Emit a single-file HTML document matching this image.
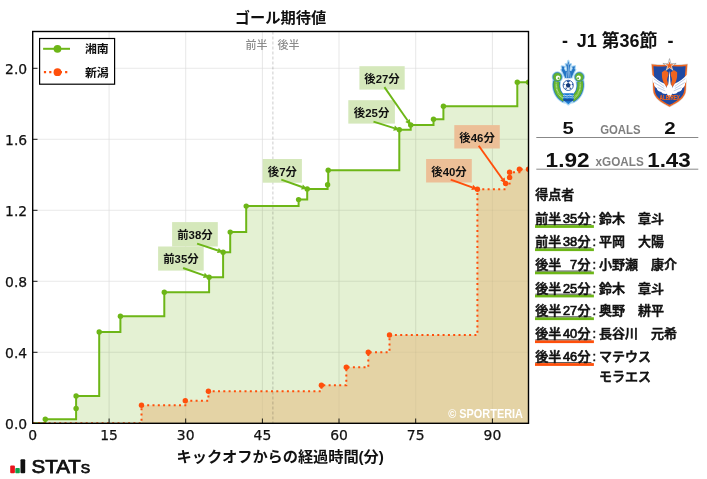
<!DOCTYPE html>
<html lang="ja"><head><meta charset="utf-8"><title>ゴール期待値</title>
<style>
html,body{margin:0;padding:0;background:#fff;}
body{width:707px;height:479px;overflow:hidden;font-family:"Liberation Sans", "Noto Sans CJK JP", sans-serif;}
svg{display:block;}
text{font-family:"Liberation Sans", "Noto Sans CJK JP", sans-serif;}
.tk{font-family:"DejaVu Sans", "Liberation Sans", sans-serif;font-size:13.9px;fill:#111;stroke:#111;stroke-width:0.25px;}
.b{font-weight:700;}
.an{font-size:11.4px;font-weight:700;text-anchor:middle;fill:#111;}
.sc{font-size:13px;font-weight:500;fill:#111;stroke:#111;stroke-width:0.55px;}
.dg{stroke-width:0.7px;}
</style></head><body>
<svg width="707" height="479" viewBox="0 0 707 479">
<rect width="707" height="479" fill="#fff"/>
<defs><clipPath id="cp"><rect x="32.7" y="31.5" width="495.8" height="391.8"/></clipPath></defs>

<g stroke="#f1f1f1" stroke-width="1.1">
<line x1="109.1" y1="31.5" x2="109.1" y2="423.3"/>
<line x1="185.7" y1="31.5" x2="185.7" y2="423.3"/>
<line x1="262.4" y1="31.5" x2="262.4" y2="423.3"/>
<line x1="339.0" y1="31.5" x2="339.0" y2="423.3"/>
<line x1="415.7" y1="31.5" x2="415.7" y2="423.3"/>
<line x1="492.4" y1="31.5" x2="492.4" y2="423.3"/>
<line x1="32.7" y1="352.3" x2="528.5" y2="352.3"/>
<line x1="32.7" y1="281.3" x2="528.5" y2="281.3"/>
<line x1="32.7" y1="210.3" x2="528.5" y2="210.3"/>
<line x1="32.7" y1="139.3" x2="528.5" y2="139.3"/>
<line x1="32.7" y1="68.3" x2="528.5" y2="68.3"/>
</g>
<text x="267.5" y="48.6" font-size="11" text-anchor="end" fill="#8c8c8c" font-weight="500">前半</text>
<text x="277.5" y="48.6" font-size="11" fill="#8c8c8c" font-weight="500">後半</text>
<g clip-path="url(#cp)">
<path d="M32.7 423.3H45.3V419.3H76.1V408.4H76.1V395.9H99.2V332.0H120.4V316.2H164.3V292.2H209.1V277.2H223.1V252.2H230.2V232.1H246.2V206.1H298.6V199.6H307.2V188.9H327.6V184.7H328.2V170.2H399.3V129.8H410.7V125.0H433.5V119.2H443.4V106.2H517.3V82.3H528.5V82.3V423.3Z" fill="#6db617" fill-opacity="0.19"/>
<path d="M32.7 423.3H141.5V405.3H185.3V400.7H208.4V391.3H321.4V385.3H346.3V367.2H368.3V352.2H389.5V335.0H477.4V189.2H505.6V183.5H509.6V177.4H509.6V172.2H519.4V169.3H528.5V169.3V423.3Z" fill="#e4d3a5"/>
</g>
<g stroke="#000" stroke-opacity="0.035" stroke-width="1.1" clip-path="url(#cp)">
<line x1="109.1" y1="31.5" x2="109.1" y2="423.3"/>
<line x1="185.7" y1="31.5" x2="185.7" y2="423.3"/>
<line x1="262.4" y1="31.5" x2="262.4" y2="423.3"/>
<line x1="339.0" y1="31.5" x2="339.0" y2="423.3"/>
<line x1="415.7" y1="31.5" x2="415.7" y2="423.3"/>
<line x1="492.4" y1="31.5" x2="492.4" y2="423.3"/>
<line x1="32.7" y1="352.3" x2="528.5" y2="352.3"/>
<line x1="32.7" y1="281.3" x2="528.5" y2="281.3"/>
<line x1="32.7" y1="210.3" x2="528.5" y2="210.3"/>
<line x1="32.7" y1="139.3" x2="528.5" y2="139.3"/>
<line x1="32.7" y1="68.3" x2="528.5" y2="68.3"/>
</g>
<line x1="272.9" y1="31.5" x2="272.9" y2="423.3" stroke="#000" stroke-opacity="0.2" stroke-width="1" stroke-dasharray="3 2"/>
<g clip-path="url(#cp)">
<path d="M32.7 423.3H45.3V419.3H76.1V408.4H76.1V395.9H99.2V332.0H120.4V316.2H164.3V292.2H209.1V277.2H223.1V252.2H230.2V232.1H246.2V206.1H298.6V199.6H307.2V188.9H327.6V184.7H328.2V170.2H399.3V129.8H410.7V125.0H433.5V119.2H443.4V106.2H517.3V82.3H528.5V82.3" fill="none" stroke="#6db617" stroke-width="2" stroke-linejoin="miter"/>
<path d="M32.7 423.3H141.5V405.3H185.3V400.7H208.4V391.3H321.4V385.3H346.3V367.2H368.3V352.2H389.5V335.0H477.4V189.2H505.6V183.5H509.6V177.4H509.6V172.2H519.4V169.3H528.5V169.3" fill="none" stroke="#ff4f0b" stroke-width="2" stroke-dasharray="2 3.3"/>
<circle cx="45.3" cy="419.3" r="2.7" fill="#6db617"/><circle cx="76.1" cy="408.4" r="2.7" fill="#6db617"/><circle cx="76.1" cy="395.9" r="2.7" fill="#6db617"/><circle cx="99.2" cy="332.0" r="2.7" fill="#6db617"/><circle cx="120.4" cy="316.2" r="2.7" fill="#6db617"/><circle cx="164.3" cy="292.2" r="2.7" fill="#6db617"/><circle cx="209.1" cy="277.2" r="2.7" fill="#6db617"/><circle cx="223.1" cy="252.2" r="2.7" fill="#6db617"/><circle cx="230.2" cy="232.1" r="2.7" fill="#6db617"/><circle cx="246.2" cy="206.1" r="2.7" fill="#6db617"/><circle cx="298.6" cy="199.6" r="2.7" fill="#6db617"/><circle cx="307.2" cy="188.9" r="2.7" fill="#6db617"/><circle cx="327.6" cy="184.7" r="2.7" fill="#6db617"/><circle cx="328.2" cy="170.2" r="2.7" fill="#6db617"/><circle cx="399.3" cy="129.8" r="2.7" fill="#6db617"/><circle cx="410.7" cy="125.0" r="2.7" fill="#6db617"/><circle cx="433.5" cy="119.2" r="2.7" fill="#6db617"/><circle cx="443.4" cy="106.2" r="2.7" fill="#6db617"/><circle cx="517.3" cy="82.3" r="2.7" fill="#6db617"/><circle cx="528.5" cy="82.3" r="2.7" fill="#6db617"/>
<circle cx="141.5" cy="405.3" r="2.7" fill="#ff4f0b"/><circle cx="185.3" cy="400.7" r="2.7" fill="#ff4f0b"/><circle cx="208.4" cy="391.3" r="2.7" fill="#ff4f0b"/><circle cx="321.4" cy="385.3" r="2.7" fill="#ff4f0b"/><circle cx="346.3" cy="367.2" r="2.7" fill="#ff4f0b"/><circle cx="368.3" cy="352.2" r="2.7" fill="#ff4f0b"/><circle cx="389.5" cy="335.0" r="2.7" fill="#ff4f0b"/><circle cx="477.4" cy="189.2" r="2.7" fill="#ff4f0b"/><circle cx="505.6" cy="183.5" r="2.7" fill="#ff4f0b"/><circle cx="509.6" cy="177.4" r="2.7" fill="#ff4f0b"/><circle cx="509.6" cy="172.2" r="2.7" fill="#ff4f0b"/><circle cx="519.4" cy="169.3" r="2.7" fill="#ff4f0b"/><circle cx="528.5" cy="169.3" r="2.7" fill="#ff4f0b"/>
</g>
<text x="448.2" y="418.2" font-size="12" font-weight="700" fill="#fff" textLength="74.8" lengthAdjust="spacingAndGlyphs">© SPORTERIA</text>
<rect x="158.1" y="246.5" width="45.6" height="24.1" fill="#d5e8bb"/>
<line x1="183.1" y1="268.0" x2="203.9" y2="275.4" stroke="#6db617" stroke-width="1.9"/>
<polygon points="209.1,277.2 203.0,277.9 204.8,272.8" fill="#6db617"/>
<text class="an" x="180.9" y="263.4">前35分</text>
<rect x="172.1" y="222.1" width="45.7" height="24.4" fill="#d5e8bb"/>
<line x1="197.1" y1="243.6" x2="217.9" y2="250.5" stroke="#6db617" stroke-width="1.9"/>
<polygon points="223.1,252.2 217.0,253.0 218.7,247.9" fill="#6db617"/>
<text class="an" x="194.9" y="239.2">前38分</text>
<rect x="262.7" y="159.0" width="39.2" height="23.7" fill="#d5e8bb"/>
<line x1="281.3" y1="179.6" x2="302.0" y2="187.0" stroke="#6db617" stroke-width="1.9"/>
<polygon points="307.2,188.9 301.1,189.6 302.9,184.5" fill="#6db617"/>
<text class="an" x="282.3" y="175.8">後7分</text>
<rect x="348.3" y="100.2" width="46.6" height="23.4" fill="#d5e8bb"/>
<line x1="373.5" y1="121.6" x2="394.1" y2="128.1" stroke="#6db617" stroke-width="1.9"/>
<polygon points="399.3,129.8 393.2,130.7 394.9,125.6" fill="#6db617"/>
<text class="an" x="371.6" y="116.8">後25分</text>
<rect x="359.4" y="66.2" width="45.3" height="23.4" fill="#d5e8bb"/>
<line x1="384.4" y1="87.1" x2="407.6" y2="120.5" stroke="#6db617" stroke-width="1.9"/>
<polygon points="410.7,125.0 405.3,122.0 409.8,118.9" fill="#6db617"/>
<text class="an" x="382.0" y="82.8">後27分</text>
<rect x="426.1" y="159.0" width="45.7" height="23.5" fill="#ecbf97"/>
<line x1="450.7" y1="179.7" x2="472.2" y2="187.4" stroke="#ff4f0b" stroke-width="1.9"/>
<polygon points="477.4,189.2 471.3,189.9 473.1,184.8" fill="#ff4f0b"/>
<text class="an" x="449.0" y="175.7">後40分</text>
<rect x="454.3" y="125.1" width="45.5" height="23.4" fill="#ecbf97"/>
<line x1="478.7" y1="145.8" x2="502.4" y2="179.0" stroke="#ff4f0b" stroke-width="1.9"/>
<polygon points="505.6,183.5 500.2,180.6 504.6,177.5" fill="#ff4f0b"/>
<text class="an" x="477.1" y="141.7">後46分</text>
<rect x="32.7" y="31.5" width="495.8" height="391.8" fill="none" stroke="#000" stroke-width="1.4"/>
<g stroke="#000" stroke-width="0.9">
<line x1="109.1" y1="423.3" x2="109.1" y2="418.5"/>
<line x1="185.7" y1="423.3" x2="185.7" y2="418.5"/>
<line x1="262.4" y1="423.3" x2="262.4" y2="418.5"/>
<line x1="339.0" y1="423.3" x2="339.0" y2="418.5"/>
<line x1="415.7" y1="423.3" x2="415.7" y2="418.5"/>
<line x1="492.4" y1="423.3" x2="492.4" y2="418.5"/>
<line x1="32.7" y1="352.3" x2="37.5" y2="352.3"/>
<line x1="32.7" y1="281.3" x2="37.5" y2="281.3"/>
<line x1="32.7" y1="210.3" x2="37.5" y2="210.3"/>
<line x1="32.7" y1="139.3" x2="37.5" y2="139.3"/>
<line x1="32.7" y1="68.3" x2="37.5" y2="68.3"/>
</g>
<text class="tk" x="32.7" y="440.1" text-anchor="middle">0</text>
<text class="tk" x="109.1" y="440.1" text-anchor="middle">15</text>
<text class="tk" x="185.7" y="440.1" text-anchor="middle">30</text>
<text class="tk" x="262.4" y="440.1" text-anchor="middle">45</text>
<text class="tk" x="339.0" y="440.1" text-anchor="middle">60</text>
<text class="tk" x="415.7" y="440.1" text-anchor="middle">75</text>
<text class="tk" x="492.4" y="440.1" text-anchor="middle">90</text>
<text class="tk" x="27.2" y="429.1" text-anchor="end">0.0</text>
<text class="tk" x="27.2" y="358.1" text-anchor="end">0.4</text>
<text class="tk" x="27.2" y="287.1" text-anchor="end">0.8</text>
<text class="tk" x="27.2" y="216.10000000000002" text-anchor="end">1.2</text>
<text class="tk" x="27.2" y="145.10000000000002" text-anchor="end">1.6</text>
<text class="tk" x="27.2" y="74.1" text-anchor="end">2.0</text>
<text x="280.6" y="22.9" font-size="15.28" font-weight="700" text-anchor="middle" fill="#111">ゴール期待値</text>
<text x="176.6" y="462.4" font-size="15.28" font-weight="700" fill="#111" textLength="207.2" lengthAdjust="spacing">キックオフからの経過時間(分)</text>
<rect x="39.6" y="38.5" width="75" height="45.7" fill="#fff" stroke="#000" stroke-width="1.2"/>
<line x1="43.1" y1="48.8" x2="70" y2="48.8" stroke="#6db617" stroke-width="2"/><circle cx="57.5" cy="48.8" r="3.9" fill="#6db617"/>
<line x1="43.9" y1="72.1" x2="69.4" y2="72.1" stroke="#ff4f0b" stroke-width="2.1" stroke-dasharray="2.2 3.1"/><circle cx="57.5" cy="72.2" r="3.9" fill="#ff4f0b"/>
<text x="84.9" y="53.1" font-size="11.9" font-weight="700" fill="#111">湘南</text>
<text x="84.9" y="76.5" font-size="11.9" font-weight="700" fill="#111">新潟</text>
<rect x="10.2" y="465.6" width="4.7" height="7.7" rx="1" fill="#e8141c"/><rect x="15.3" y="468.1" width="4.5" height="5.2" rx="0.8" fill="#11a04b"/><rect x="20.5" y="459.2" width="4.7" height="14.1" rx="1" fill="#111"/>
<text x="31.6" y="472.9" font-size="17.6" font-weight="400" fill="#111" stroke="#111" stroke-width="0.75" textLength="58.6" lengthAdjust="spacingAndGlyphs" style="font-variant-caps:small-caps">STATs</text>
<text y="47.2" font-size="18" font-weight="700" fill="#111"><tspan x="562">- </tspan><tspan x="576.8">J1 </tspan><tspan x="601.4">第36節 </tspan><tspan x="667.6">-</tspan></text>
<g transform="translate(548,56) scale(0.10870)">
<g fill="#a9d6f3" stroke="#a9d6f3" stroke-linecap="round" stroke-linejoin="round">
<path d="M80 232C66 300 94 366 152 396M294 232C308 300 280 366 222 396" stroke-width="80" fill="none"/>
<circle cx="86" cy="193" r="52" stroke="none"/><circle cx="288" cy="193" r="52" stroke="none"/>
<path d="M187 45L196 80L211 74L201 100L197 135L214 140L228 115L222 99L248 94L243 120L251 126L236 154L214 205H160L138 154L123 126L131 120L126 94L152 99L146 115L160 140L177 135L173 100L163 74L178 80Z" stroke-width="20"/>
<path d="M140 345H235V402L187 444L140 402Z" stroke-width="22"/>
</g>
<ellipse cx="187" cy="285" rx="70" ry="90" fill="#fff"/>
<path d="M80 232C66 300 94 366 152 396M294 232C308 300 280 366 222 396" fill="none" stroke="#2474c4" stroke-width="64"/>
<path d="M80 232C66 300 94 366 152 396M294 232C308 300 280 366 222 396" fill="none" stroke="#62b32e" stroke-width="52"/>
<path d="M80 232C66 300 94 366 152 396M294 232C308 300 280 366 222 396" fill="none" stroke="#cfe9a6" stroke-width="15" stroke-dasharray="6 6"/>
<circle cx="86" cy="193" r="41" fill="#62b32e" stroke="#2474c4" stroke-width="6"/><circle cx="288" cy="193" r="41" fill="#62b32e" stroke="#2474c4" stroke-width="6"/>
<circle cx="92" cy="200" r="20" fill="#fff"/><circle cx="282" cy="200" r="20" fill="#fff"/>
<circle cx="97" cy="205" r="9" fill="#62b32e"/><circle cx="277" cy="205" r="9" fill="#62b32e"/>
<path d="M187 45L196 80L211 74L201 100L197 135L214 140L228 115L222 99L248 94L243 120L251 126L236 154L214 205H160L138 154L123 126L131 120L126 94L152 99L146 115L160 140L177 135L173 100L163 74L178 80Z" fill="#2474c4"/>
<path d="M187 70V200M176 142L169 202M198 142L205 202" stroke="#e4f0fa" stroke-width="4.5" fill="none"/>
<circle cx="186" cy="270" r="47" fill="#fff" stroke="#1d4f9e" stroke-width="8"/>
<path d="M186 246L209 263L200 290H172L163 263Z" fill="#14397a"/>
<path d="M186 224L202 235L186 246L170 235ZM228 250L232 274L216 262ZM144 250L140 274L156 262ZM212 308L196 300L208 288ZM160 308L176 300L164 288Z" fill="#1f4f9e"/>
<path d="M140 342H235V402L187 444L140 402Z" fill="#1c7bd4"/>
<path d="M140 364q12 -8 24 0t24 0t24 0t23 0" stroke="#fff" stroke-width="7" fill="none"/>
<path d="M140 382q12 -8 24 0t24 0t24 0t23 0" stroke="#cfe6f8" stroke-width="6" fill="none"/>
<path d="M140 394H235V404L222 416H153L140 404Z" fill="#164f9f"/>
</g>
<g transform="translate(648,56) scale(0.10870)">
<path d="M42 84Q120 94 198 86Q276 94 354 84Q343 200 341 310C338 385 262 425 198 458C134 425 58 385 55 310Q53 200 42 84Z" fill="#1f49a2" stroke="#d9d2cd" stroke-width="24"/>
<path d="M42 84Q120 94 198 86Q276 94 354 84Q343 200 341 310C338 385 262 425 198 458C134 425 58 385 55 310Q53 200 42 84Z" fill="#1f49a2" stroke="#f0641e" stroke-width="14"/>
<path d="M198.0 24.0L210.9 70.2L258.9 68.2L218.9 94.8L235.6 139.8L198.0 110.0L160.4 139.8L177.1 94.8L137.1 68.2L185.1 70.2Z" fill="#fff" stroke="#6b6b6b" stroke-width="4" stroke-linejoin="miter"/>
<path d="M198.0 50.0L206.8 75.9L234.1 76.3L212.3 92.6L220.3 118.7L198.0 103.0L175.7 118.7L183.7 92.6L161.9 76.3L189.2 75.9Z" fill="#f0641e"/>
<path d="M155 131L187 150V182C176 195 174 222 186 240L178 292C150 268 128 222 128 178V150ZM241 131L209 150V182C220 195 222 222 210 240L218 292C246 268 268 222 268 178V150Z" fill="#f0641e"/>
<path d="M176 300C165 280 158 265 148 252C110 235 70 210 38 172C34 212 42 238 56 256C52 268 60 286 82 298C82 312 98 326 122 332C130 346 150 352 176 348Z" fill="#fff"/>
<path d="M220 300C231 280 238 265 248 252C286 235 326 210 358 172C362 212 354 238 340 256C344 268 336 286 314 298C314 312 298 326 274 332C266 346 246 352 220 348Z" fill="#fff"/>
<path d="M176 214L193 196V268L183 258ZM220 214L203 196V268L213 258Z" fill="#1f49a2"/>
<path d="M198 136C191 180 193 230 186 262C158 290 162 350 198 384C234 350 238 290 210 262C203 230 205 180 198 136Z" fill="#fff"/>
<path d="M52 208L150 280M58 244L150 300M88 290L160 322M344 208L246 280M338 244L246 300M308 290L236 322" stroke="#9fb3dd" stroke-width="6" fill="none"/>
<text x="200" y="405" font-family="'Liberation Serif', serif" font-weight="700" font-size="74" fill="#f0641e" stroke="#f0641e" stroke-width="2" text-anchor="middle" textLength="188" lengthAdjust="spacingAndGlyphs">ALBIREX</text>
</g>
<text x="562.4" y="133.9" font-size="17.2" font-weight="700" fill="#111" textLength="11.2" lengthAdjust="spacingAndGlyphs">5</text>
<text x="664.2" y="133.9" font-size="17.2" font-weight="700" fill="#111" textLength="11.4" lengthAdjust="spacingAndGlyphs">2</text>
<text x="600.2" y="133.9" font-size="12.4" font-weight="700" fill="#7f7f7f" textLength="40.4" lengthAdjust="spacingAndGlyphs">GOALS</text>
<line x1="536.3" y1="137.5" x2="698.3" y2="137.5" stroke="#888" stroke-width="1"/>
<text x="545.6" y="166.9" font-size="19.4" font-weight="700" fill="#111" textLength="44" lengthAdjust="spacingAndGlyphs">1.92</text>
<text x="647.2" y="166.9" font-size="19.4" font-weight="700" fill="#111" textLength="43.6" lengthAdjust="spacingAndGlyphs">1.43</text>
<text x="595.6" y="166.1" font-size="12.4" font-weight="700" fill="#7f7f7f" textLength="48.2" lengthAdjust="spacingAndGlyphs">xGOALS</text>
<line x1="536.3" y1="169.2" x2="698.3" y2="169.2" stroke="#888" stroke-width="1"/>
<text class="sc" x="535.3" y="198.9">得点者</text>
<rect x="535" y="225.1" width="58.9" height="2.8" fill="#6db617"/>
<rect x="535.4" y="224.2" width="56" height="0.8" fill="#333"/>
<text class="sc" x="535.2" y="223.0">前半</text>
<text class="sc dg" x="577.1" y="223.0" text-anchor="end" textLength="14.2" lengthAdjust="spacingAndGlyphs">35</text>
<text class="sc" x="577.6" y="223.0">分</text>
<text class="sc" x="592.4" y="223.0">:</text>
<text class="sc" x="598.9" y="223.0">鈴木　章斗</text>
<rect x="535" y="248.3" width="58.9" height="2.8" fill="#6db617"/>
<rect x="535.4" y="247.4" width="56" height="0.8" fill="#333"/>
<text class="sc" x="535.2" y="246.2">前半</text>
<text class="sc dg" x="577.1" y="246.2" text-anchor="end" textLength="14.2" lengthAdjust="spacingAndGlyphs">38</text>
<text class="sc" x="577.6" y="246.2">分</text>
<text class="sc" x="592.4" y="246.2">:</text>
<text class="sc" x="598.9" y="246.2">平岡　大陽</text>
<rect x="535" y="271.5" width="58.9" height="2.8" fill="#6db617"/>
<rect x="535.4" y="270.6" width="56" height="0.8" fill="#333"/>
<text class="sc" x="535.2" y="269.4">後半</text>
<text class="sc dg" x="577.1" y="269.4" text-anchor="end" textLength="7.1" lengthAdjust="spacingAndGlyphs">7</text>
<text class="sc" x="577.6" y="269.4">分</text>
<text class="sc" x="592.4" y="269.4">:</text>
<text class="sc" x="598.9" y="269.4">小野瀬　康介</text>
<rect x="535" y="294.6" width="58.9" height="2.8" fill="#6db617"/>
<rect x="535.4" y="293.7" width="56" height="0.8" fill="#333"/>
<text class="sc" x="535.2" y="292.5">後半</text>
<text class="sc dg" x="577.1" y="292.5" text-anchor="end" textLength="14.2" lengthAdjust="spacingAndGlyphs">25</text>
<text class="sc" x="577.6" y="292.5">分</text>
<text class="sc" x="592.4" y="292.5">:</text>
<text class="sc" x="598.9" y="292.5">鈴木　章斗</text>
<rect x="535" y="317.3" width="58.9" height="2.8" fill="#6db617"/>
<rect x="535.4" y="316.4" width="56" height="0.8" fill="#333"/>
<text class="sc" x="535.2" y="315.2">後半</text>
<text class="sc dg" x="577.1" y="315.2" text-anchor="end" textLength="14.2" lengthAdjust="spacingAndGlyphs">27</text>
<text class="sc" x="577.6" y="315.2">分</text>
<text class="sc" x="592.4" y="315.2">:</text>
<text class="sc" x="598.9" y="315.2">奥野　耕平</text>
<rect x="535" y="340.3" width="58.9" height="2.8" fill="#ff4f0b"/>
<rect x="535.4" y="339.4" width="56" height="0.8" fill="#333"/>
<text class="sc" x="535.2" y="338.2">後半</text>
<text class="sc dg" x="577.1" y="338.2" text-anchor="end" textLength="14.2" lengthAdjust="spacingAndGlyphs">40</text>
<text class="sc" x="577.6" y="338.2">分</text>
<text class="sc" x="592.4" y="338.2">:</text>
<text class="sc" x="598.9" y="338.2">長谷川　元希</text>
<rect x="535" y="363.1" width="58.9" height="2.8" fill="#ff4f0b"/>
<rect x="535.4" y="362.2" width="56" height="0.8" fill="#333"/>
<text class="sc" x="535.2" y="361.0">後半</text>
<text class="sc dg" x="577.1" y="361.0" text-anchor="end" textLength="14.2" lengthAdjust="spacingAndGlyphs">46</text>
<text class="sc" x="577.6" y="361.0">分</text>
<text class="sc" x="592.4" y="361.0">:</text>
<text class="sc" x="598.9" y="361.0">マテウス</text>
<text class="sc" x="598.9" y="381.1">モラエス</text>
</svg></body></html>
